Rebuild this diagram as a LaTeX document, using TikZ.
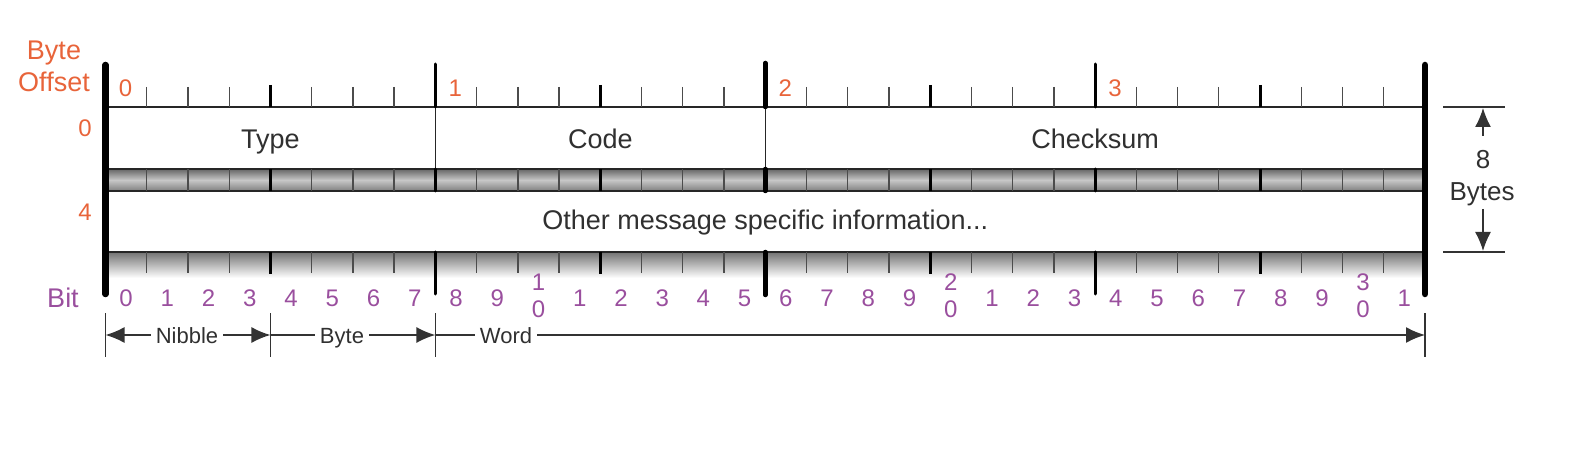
\documentclass[tikz,border=0pt]{standalone}
\usepackage{fontspec}
\setmainfont{Liberation Sans}
\usetikzlibrary{arrows.meta}
\definecolor{offorange}{HTML}{E8643A}
\definecolor{bitpurple}{HTML}{9A4F9E}
\definecolor{ink}{HTML}{303030}
\begin{document}
\begin{tikzpicture}[x=1pt,y=-1pt,
  rtick/.style={line width=1.3pt, draw=black!70},
  ntick/.style={line width=3pt, draw=black},
  bytick/.style={line width=3pt, draw=black, line cap=round},
  halftick/.style={line width=4.5pt, draw=black, line cap=round},
  endbar/.style={line width=6.5pt, draw=black, line cap=round},
  thinsep/.style={line width=1.5pt, draw=black!85},
  boxline/.style={line width=2pt, draw=black!85, fill=white},
  field/.style={font=\fontsize{27}{32}\selectfont, text=ink, inner sep=0pt},
  offlabel/.style={font=\fontsize{27}{32}\selectfont, text=offorange, inner sep=0pt},
  bytelabel/.style={font=\fontsize{24}{27}\selectfont, text=offorange, inner sep=0pt},
  bitnum/.style={font=\fontsize{24}{27}\selectfont, text=bitpurple, inner sep=0pt},
  dimlabel/.style={font=\fontsize{22}{26}\selectfont, text=ink, inner sep=5pt},
  dimline/.style={line width=1.5pt, draw=black!80},
  dimarrow/.style={line width=1.5pt, draw=black!80, -{Latex[length=19pt,width=16pt]}},
]
\useasboundingbox (0,0) rectangle (1578,454);
\def\L{105.5}
\def\R{1425}
\def\W{41.234375}

% shading of the ruler
\shade[top color=black!55, bottom color=white] (\L,252) rectangle (\R,278);
\shade[top color=black!60, bottom color=black!50, middle color=black!22] (\L,169) rectangle (\R,191);

% rows
\draw[boxline] (\L,107) rectangle (\R,169);
\draw[boxline] (\L,191) rectangle (\R,252);

% small and nibble ticks
\foreach \i in {1,...,31}{
  \pgfmathsetmacro\tx{\L+\W*\i}
  \pgfmathtruncatemacro\m{mod(\i,8)}
  \pgfmathtruncatemacro\n{mod(\i,4)}
  \ifnum\m=0
  \else
    \ifnum\n=0
      \draw[ntick] (\tx,85) -- (\tx,107);
      \draw[ntick] (\tx,169) -- (\tx,191);
      \draw[ntick] (\tx,252) -- (\tx,274);
    \else
      \draw[rtick] (\tx,87) -- (\tx,107);
      \draw[rtick] (\tx,169) -- (\tx,191);
      \draw[rtick] (\tx,252) -- (\tx,273);
    \fi
  \fi
}

% byte dividers
\draw[thinsep] (\L+8*\W,107) -- (\L+8*\W,169);
\draw[thinsep] (\L+16*\W,107) -- (\L+16*\W,169);
\foreach \b in {8,24}{
  \draw[bytick] (\L+\b*\W,64) -- (\L+\b*\W,107);
  \draw[bytick] (\L+\b*\W,169) -- (\L+\b*\W,191);
  \draw[bytick] (\L+\b*\W,252) -- (\L+\b*\W,294);
}
\draw[halftick] (\L+16*\W,63) -- (\L+16*\W,107);
\draw[halftick] (\L+16*\W,169) -- (\L+16*\W,191);
\draw[halftick] (\L+16*\W,252) -- (\L+16*\W,295);

% end bars
\draw[endbar] (\L,65) -- (\L,294);
\draw[endbar] (\R,65) -- (\R,294);

% field labels
\node[field, anchor=base] (type) at (\L+4*\W,148.5) {Type};
\node[field, anchor=base] (code) at (\L+12*\W,148.5) {Code};
\node[field, anchor=base] (checksum) at (\L+24*\W,148.5) {Checksum};
\node[field, anchor=base] (other) at (\L+16*\W,230) {Other message specific information...};

% byte offset labels
\node[offlabel, align=center] (byteoffset) at (54,66) {Byte\\Offset};
\foreach \b in {0,1,2,3}{
  \node[bytelabel] (by\b) at (\L+8*\W*\b+20,88) {\b};
}
\node[bytelabel] (row0) at (85,128) {0};
\node[bytelabel] (row4) at (85,212) {4};

% bit numbers
\node[offlabel, text=bitpurple] (bitlbl) at (63,298) {Bit};
\foreach \i in {0,...,31}{
  \pgfmathsetmacro\bx{\L+\W*(\i+0.5)}
  \pgfmathtruncatemacro\dg{mod(\i,10)}
  \pgfmathtruncatemacro\tn{(\i-\dg)/10}
  \ifnum\dg=0
    \ifnum\i>0
      \node[bitnum, align=center] (bit\i) at (\bx,296) {\tn\\0};
    \else
      \node[bitnum] (bit\i) at (\bx,298) {0};
    \fi
  \else
    \node[bitnum] (bit\i) at (\bx,298) {\dg};
  \fi
}

% 8 bytes dimension
\coordinate (tt) at (1483,108);
\coordinate (bb) at (1483,251);
\draw[dimline] (1443,107) -- (1505,107);
\draw[dimline] (1443,252) -- (1505,252);
\node[font=\fontsize{26}{30}\selectfont, text=ink, inner sep=0pt] (eight) at (1483,160) {8};
\node[font=\fontsize{26}{30}\selectfont, text=ink, inner sep=0pt, anchor=base] (bytes) at (1482,201) {Bytes};
\coordinate (eightup) at (1483,136);
\coordinate (bytesdn) at (1483,209);
\draw[dimarrow] (eightup) -- (tt);
\draw[dimarrow] (bytesdn) -- (bb);

% nibble / byte / word dimensions
\coordinate (d0) at (\L,335);
\coordinate (d1) at (\L+4*\W,335);
\coordinate (d2) at (\L+8*\W,335);
\coordinate (d3) at (\R,335);
\foreach \c in {d0,d1,d2,d3}{
  \draw[dimline] (\c) ++(0,-22) -- ++(0,44);
}
\node[dimlabel, anchor=base] (nib) at (187,343) {Nibble};
\node[dimlabel, anchor=base] (byt) at (342,343) {Byte};
\node[dimlabel, anchor=base] (wrd) at (506,343) {Word};
\draw[dimarrow] (nib.west |- d0) -- (d0);
\draw[dimarrow] (nib.east |- d0) -- (d1);
\draw[dimline] (d1) -- (byt.west |- d1);
\draw[dimarrow] (byt.east |- d1) -- (d2);
\draw[dimline] (d2) -- (wrd.west |- d2);
\draw[dimarrow] (wrd.east |- d2) -- (d3);
\end{tikzpicture}
\end{document}
